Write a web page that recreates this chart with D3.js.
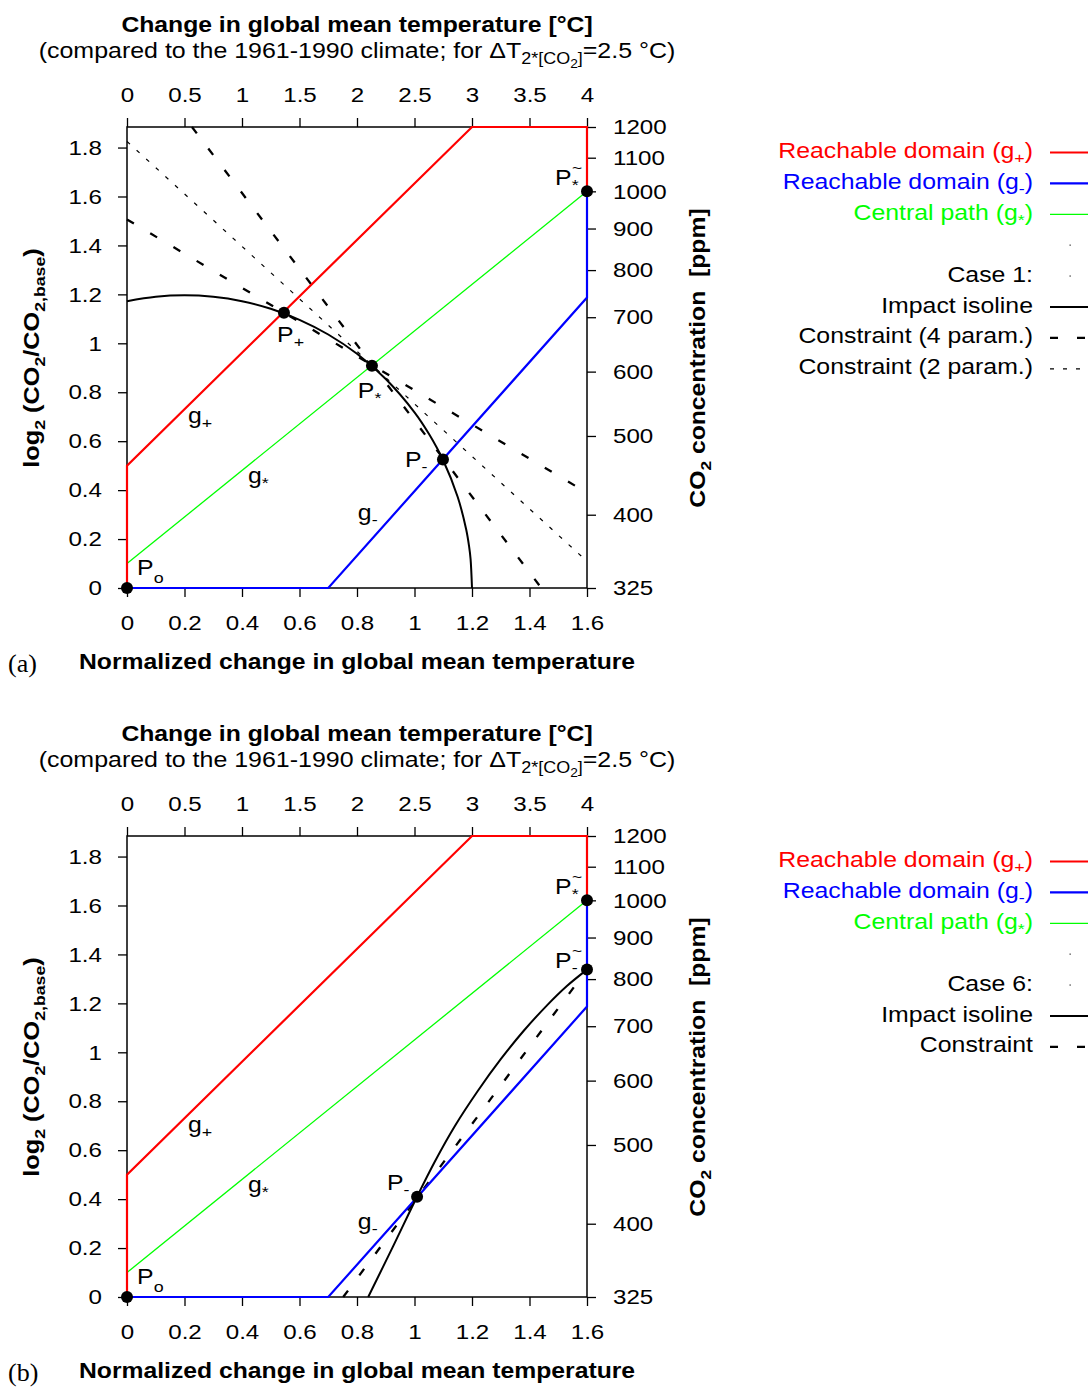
<!DOCTYPE html>
<html><head><meta charset="utf-8">
<script src="https://cdn.jsdelivr.net/npm/d3@7"></script>
<style>body{margin:0;background:#fff}text{white-space:pre}</style>
</head><body><svg id="c" width="1090" height="1387" xmlns="http://www.w3.org/2000/svg"></svg>
<script>
// ---------- data ----------
const xTicks=[0,0.2,0.4,0.6,0.8,1,1.2,1.4,1.6];
const tempTicks=[0,0.5,1,1.5,2,2.5,3,3.5,4];
const yTicks=[0,0.2,0.4,0.6,0.8,1,1.2,1.4,1.6,1.8];
const ppmTicks=[325,400,500,600,700,800,900,1000,1100,1200];
const xMax=1.6, tempMax=4, ppmBase=325, ppmMax=1200, yMax=1.884;

const redPath=[[0,0],[0,0.5],[1.2,1.884],[1.6,1.884],[1.6,1.621]];
const bluePath=[[0,0],[0.7,0],[1.6,1.187],[1.6,1.621]];
const greenPath=[[0,0.1],[1.6,1.621]];

const isolineA=[[0,1.172],[0.1,1.190],[0.2,1.196],[0.3,1.190],[0.4,1.172],[0.5,1.141],[0.6,1.096],[0.7,1.036],[0.8,0.957],[0.9,0.854],[1.0,0.718],[1.05,0.630],[1.1,0.521],[1.15,0.373],[1.18,0.238],[1.19,0.169],[1.195,0.119],[1.2,0]];
const constraint4A_shallow=[[0,1.506],[1.6,0.389]];
const constraint4A_steep=[[0.226,1.884],[1.441,0]];
const constraint2A=[[0,1.825],[1.6,0.109]];

const isolineB=[[0.839,0],[0.925,0.206],[1.010,0.413],[1.07,0.552],[1.14,0.698],[1.22,0.842],[1.30,0.972],[1.38,1.088],[1.46,1.191],[1.53,1.271],[1.6,1.338]];
const constraintB=[[0.752,0],[1.6,1.338]];

const pointsA=[[0,0],[0.546,1.125],[0.852,0.908],[1.099,0.525],[1.6,1.621]];
const pointsB=[[0,0],[1.009,0.41],[1.6,1.338],[1.6,1.621]];

// point / line annotations: [x, y, main, sub, tilde]
const annotA=[[0.035,0.053,"P","o",false],[0.522,1.007,"P","+",false],[0.803,0.777,"P","*",false],[0.967,0.495,"P","-",false],[1.489,1.649,"P","*",true],
  [0.212,0.675,"g","+",false],[0.421,0.430,"g","*",false],[0.803,0.278,"g","-",false]];
const annotB=[[0.035,0.053,"P","o",false],[0.904,0.438,"P","-",false],[1.489,1.649,"P","*",true],[1.489,1.346,"P","-",true],
  [0.212,0.675,"g","+",false],[0.421,0.430,"g","*",false],[0.803,0.278,"g","-",false]];

const legendA=[["Reachable domain (g","+",")"],["Reachable domain (g","-",")"],["Central path (g","*",")"],null,["Case 1:"],["Impact isoline"],["Constraint (4 param.)"],["Constraint (2 param.)"]];
const legendKeysA=["red","blue","green","dot","dot","iso","dash","dot2"];
const legendB=[["Reachable domain (g","+",")"],["Reachable domain (g","-",")"],["Central path (g","*",")"],null,["Case 6:"],["Impact isoline"],["Constraint"]];
const legendKeysB=["red","blue","green","dot","dot","iso","dash"];

// ---------- styles ----------
const FONT="'Liberation Sans', Arial, Helvetica, sans-serif";
const SX=1.15;
const FS=21.6;
const STY={
  red:{stroke:"#ff0000",w:2.2,dash:null,text:"#ff0000"},
  blue:{stroke:"#0000ff",w:2.2,dash:null,text:"#0000ff"},
  green:{stroke:"#00ff00",w:1.3,dash:null,text:"#00ff00"},
  iso:{stroke:"#000",w:2,dash:null,text:"#000"},
  dash:{stroke:"#000",w:2.3,dash:"8,19",text:"#000"},
  dot2:{stroke:"#000",w:1.2,dash:"4,9",text:"#000"}
};

const svg=d3.select("#c");

function txt(parent,x,y,parts,o={}){
  const size=o.size||FS;
  const t=parent.append("text")
    .attr("transform",`translate(${x},${y})${o.rot?` rotate(${o.rot})`:""} scale(${o.sx??SX},1)`)
    .attr("text-anchor",o.anchor||"start").attr("font-family",o.family||FONT)
    .attr("font-size",size).attr("font-weight",o.weight||"normal").attr("fill",o.fill||"#000");
  let cur=0;
  for(const p of parts){
    const [s,shift=0,f=1]=Array.isArray(p)?p:[p];
    t.append("tspan").attr("dy",shift-cur).attr("font-size",size*f).text(s);
    cur=shift;
  }
  return t;
}

function styleAxis(g){
  g.attr("font-size",21).attr("font-family",FONT);
  g.select(".domain").remove();
  g.selectAll("line").attr("stroke","#000").attr("stroke-width",1.3);
  g.selectAll("text").each(function(){
    const t=d3.select(this);
    const tx=+t.attr("x")||0, ty=+t.attr("y")||0;
    t.attr("x",null).attr("y",null).attr("transform",`translate(${tx},${ty}) scale(${SX},1)`);
  });
}

function panel(oy,tag,annot,points,legend,legendKeys,drawCurves){
  const g=svg.append("g").attr("transform",`translate(0,${oy})`);
  const x=d3.scaleLinear([0,xMax],[127,587]);
  const xt=d3.scaleLinear([0,tempMax],[127,587]);
  const y=d3.scaleLinear([0,yMax],[588,127]);
  const yr=d3.scaleLog().base(2).domain([ppmBase,ppmMax]).range([588,127]);

  g.append("g").attr("transform","translate(0,588)")
    .call(d3.axisBottom(x).tickValues(xTicks).tickFormat(d3.format("~g")).tickSize(9).tickSizeOuter(0).tickPadding(18)).call(styleAxis);
  g.append("g").attr("transform","translate(0,127)")
    .call(d3.axisTop(xt).tickValues(tempTicks).tickFormat(d3.format("~g")).tickSize(9).tickSizeOuter(0).tickPadding(16)).call(styleAxis);
  g.append("g").attr("transform","translate(127,0)")
    .call(d3.axisLeft(y).tickValues(yTicks).tickFormat(d3.format("~g")).tickSize(9).tickSizeOuter(0).tickPadding(16)).call(styleAxis);
  g.append("g").attr("transform","translate(587,0)")
    .call(d3.axisRight(yr).tickValues(ppmTicks).tickFormat(d3.format("d")).tickSize(9).tickSizeOuter(0).tickPadding(17)).call(styleAxis);

  g.append("rect").attr("x",127).attr("y",127).attr("width",460).attr("height",461)
    .attr("fill","none").attr("stroke","#000").attr("stroke-width",1.5);

  const line=d3.line().x(d=>x(d[0])).y(d=>y(d[1]));
  const smooth=d3.line().x(d=>x(d[0])).y(d=>y(d[1])).curve(d3.curveCatmullRom.alpha(0.5));
  const draw=(data,key,gen=line)=>{const s=STY[key];
    g.append("path").attr("d",gen(data)).attr("fill","none").attr("stroke",s.stroke)
     .attr("stroke-width",s.w).attr("stroke-dasharray",s.dash).attr("stroke-linejoin","miter");};
  drawCurves(draw,smooth);

  g.selectAll("circle.pt").data(points).join("circle").attr("class","pt")
    .attr("cx",d=>x(d[0])).attr("cy",d=>y(d[1])).attr("r",6).attr("fill","#000");

  annot.forEach(([ax,ay,m,sub,tilde])=>{
    const px=x(ax), py=y(ay);
    txt(g,px,py,[[m],[sub,sub==="o"?8:5,0.72]]);
    if(tilde) txt(g,px+17,py-11.5,[["~"]],{size:15});
  });

  // titles
  txt(g,357,32,[["Change in global mean temperature [°C]"]],{anchor:"middle",weight:"bold",size:21.5});
  txt(g,357,58,[["(compared to the 1961-1990 climate; for ΔT"],["2*[CO",6,0.72],["2",10,0.55],["]",6,0.72],["=2.5 °C)",0,1]],{anchor:"middle",size:21.7});
  txt(g,357,669,[["Normalized change in global mean temperature"]],{anchor:"middle",weight:"bold",size:21.5});
  txt(g,8,672,[[tag]],{family:"'Liberation Serif','Times New Roman',serif",size:26,sx:1});
  txt(g,39,358,[["log"],["2",6,0.7],[" (CO"],["2",6,0.7],["/CO"],["2,base",6,0.7],[")"]],{anchor:"middle",weight:"bold",size:22,rot:-90});
  txt(g,705,358,[["CO"],["2",6,0.7],[" concentration  [ppm]"]],{anchor:"middle",weight:"bold",size:21.5,rot:-90});

  // legend
  legend.forEach((lab,i)=>{
    const ly=152.5+i*30.9;
    const key=legendKeys[i];
    if(lab){
      const col=(STY[key]&&key!=="iso"&&key!=="dash"&&key!=="dot2")?STY[key].text:"#000";
      const parts=lab.length===3?[[lab[0]],[lab[1],5,0.72],[lab[2],0,1]]:[[lab[0]]];
      txt(g,1033,ly+5.5,parts,{anchor:"end",fill:col});
    }
    if(key==="dot"){
      g.append("rect").attr("x",1069.5).attr("y",ly-0.7).attr("width",1.3).attr("height",1.3).attr("fill","#444");
    } else {
      const s=STY[key];
      g.append("line").attr("x1",1050).attr("x2",1088).attr("y1",ly).attr("y2",ly)
        .attr("stroke",s.stroke).attr("stroke-width",s.w).attr("stroke-dasharray",s.dash);
    }
  });
}

panel(0,"(a)",annotA,pointsA,legendA,legendKeysA,(draw,smooth)=>{
  draw(constraint4A_shallow,"dash");
  draw(constraint4A_steep,"dash");
  draw(constraint2A,"dot2");
  draw(greenPath,"green");
  draw(redPath,"red");
  draw(bluePath,"blue");
  draw(isolineA,"iso",smooth);
});
panel(709,"(b)",annotB,pointsB,legendB,legendKeysB,(draw,smooth)=>{
  draw(constraintB,"dash");
  draw(greenPath,"green");
  draw(redPath,"red");
  draw(bluePath,"blue");
  draw(isolineB,"iso",smooth);
});
</script></body></html>
